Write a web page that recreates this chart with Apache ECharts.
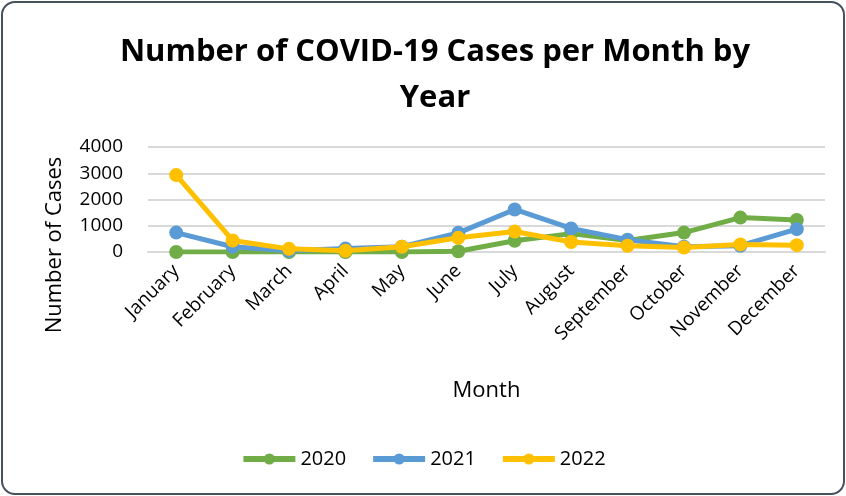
<!DOCTYPE html>
<html><head><meta charset="utf-8">
<script src="https://cdn.jsdelivr.net/npm/echarts@6/dist/echarts.min.js"></script>
<style>
html,body{margin:0;padding:0;background:#fff;}
#wrap{position:absolute;left:1px;top:1px;width:840px;height:490px;border:2px solid #46515e;border-radius:14px;box-sizing:content-box;}
#c{position:absolute;left:0;top:0;width:846px;height:496px;}
</style></head>
<body>
<div id="wrap"></div>
<div id="c"></div>
<script>
const months = ["January","February","March","April","May","June","July","August","September","October","November","December"];
const years = ["2020","2021","2022"];
const cases2020 = [0,0,0,0,0,30,430,700,440,740,1310,1220];
const cases2021 = [740,200,50,130,200,730,1620,900,470,200,240,870];
const cases2022 = [2930,440,120,50,200,540,780,380,240,170,290,260];
const yTicks = [0,1000,2000,3000,4000];
const colors = ["#70ad47","#5b9bd5","#ffc000"];
const font = "'Open Sans', 'Noto Sans', sans-serif";

const chart = echarts.init(document.getElementById('c'));
const mk = (name, data, i) => ({
  name, type:'line', data, symbol:'circle', symbolSize:14,
  lineStyle:{width:5, color:colors[i]}, itemStyle:{color:colors[i]}, z: 2+i
});
chart.setOption({
  animation:false,
  title:{text:"Number of COVID-19 Cases per Month by\nYear", left:430, textAlign:'center', top:24,
    textStyle:{fontFamily:font, fontSize:31, fontWeight:'bold', color:'#000', lineHeight:46}},
  grid:{left:148, right:21, top:147, bottom:244},
  legend:{bottom:22, left:'center', itemWidth:52, itemHeight:14, itemGap:24,
    lineStyle:{width:6},
    textStyle:{fontFamily:font, fontSize:20, color:'#000'}, data:years},
  graphic:[{type:'text', left:null, x:55, y:245, rotation:Math.PI/2,
    style:{text:'Number of Cases', font:"22px 'Open Sans', sans-serif", fill:'#000', align:'center', verticalAlign:'middle'}}],
  xAxis:{type:'category', data:months, boundaryGap:true,
    name:'Month', nameLocation:'middle', nameGap:128,
    nameTextStyle:{fontFamily:font, fontSize:22, color:'#000'},
    axisLine:{lineStyle:{color:'#d9d9d9', width:2}}, axisTick:{show:false},
    axisLabel:{rotate:45, fontFamily:font, fontSize:19, color:'#000', margin:16, interval:0}},
  yAxis:{type:'value', min:yTicks[0], max:yTicks[yTicks.length-1], interval:1000,
    axisLine:{show:false}, axisTick:{show:false},
    splitLine:{lineStyle:{color:'#d9d9d9', width:2}},
    axisLabel:{fontFamily:font, fontSize:19, color:'#000', margin:25, formatter:v=>String(v)}},
  series:[mk(years[0],cases2020,0), mk(years[1],cases2021,1), mk(years[2],cases2022,2)]
});
</script>
</body></html>
